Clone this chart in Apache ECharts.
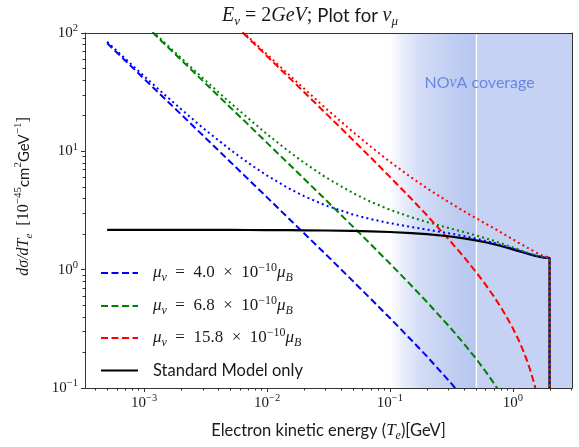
<!DOCTYPE html>
<html><head><meta charset="utf-8">
<script src="https://cdn.jsdelivr.net/npm/echarts@6/dist/echarts.min.js"></script>
<style>html,body{margin:0;padding:0;background:#fff}#c{width:579px;height:447px}</style>
</head><body><div id="c"></div>
<script>
// electron kinetic energy T_e [GeV]
const energy = [0.0005,0.0007,0.001,0.0015,0.002,0.003,0.005,0.007,0.01,0.015,0.02,0.03,0.05,0.07,0.1,0.15,0.2,0.3,0.4,0.5,0.6,0.7,0.8,0.9,1.0,1.1,1.2,1.3,1.4,1.5,1.6,1.7,1.8,1.9,1.95,1.99];
// magnetic-moment contribution (dashed)
const mmBlue = [82.0,58.6,41.0,27.3,20.5,13.65,8.18,5.84,4.08,2.71,2.03,1.35,0.80,0.565,0.390,0.253,0.185,0.116,0.082,0.0615,0.0478,0.0381,0.0308,0.0251,0.0205,0.0168,0.0137,0.0110,0.0088,0.0068,0.0051,0.0036,0.0023,0.0011,0.0005,0.0001];
const mmGreen = [236.9,169.2,118.4,78.9,59.2,39.4,23.6,16.9,11.79,7.84,5.87,3.89,2.31,1.634,1.126,0.731,0.533,0.336,0.237,0.178,0.138,0.110,0.0889,0.0724,0.0593,0.0485,0.0395,0.0319,0.0254,0.0198,0.0148,0.0105,0.0066,0.0031,0.0015,0.0003];
const mmRed = [1279.7,914.0,639.7,426.4,319.7,213.0,127.7,91.1,63.7,42.3,31.7,21.0,12.48,8.83,6.08,3.95,2.88,1.81,1.28,0.96,0.747,0.594,0.48,0.391,0.32,0.262,0.213,0.172,0.137,0.107,0.080,0.0565,0.0356,0.0168,0.0082,0.0016];
// Standard Model only (solid black)
const smOnly = [2.169,2.169,2.169,2.168,2.168,2.167,2.165,2.163,2.161,2.156,2.151,2.142,2.125,2.107,2.081,2.038,1.996,1.916,1.841,1.770,1.704,1.643,1.586,1.533,1.485,1.442,1.403,1.369,1.339,1.314,1.294,1.278,1.266,1.259,1.258,1.257];
// SM + magnetic moment (dotted)
const totBlue = [84.2,60.7,43.2,29.5,22.7,15.8,10.35,8.00,6.24,4.87,4.18,3.49,2.925,2.672,2.471,2.291,2.181,2.032,1.923,1.832,1.752,1.681,1.617,1.558,1.506,1.459,1.417,1.380,1.348,1.321,1.299,1.282,1.268,1.260,1.258,1.257];
const totGreen = [239.1,171.4,120.6,81.1,61.4,41.6,25.8,19.1,13.95,10.0,8.02,6.03,4.44,3.74,3.21,2.77,2.53,2.25,2.08,1.948,1.842,1.753,1.675,1.605,1.544,1.491,1.443,1.401,1.364,1.334,1.309,1.289,1.273,1.262,1.260,1.257];
const totRed = [1281.9,916.2,641.9,428.6,321.9,215.2,129.9,93.3,65.9,44.5,33.9,23.1,14.6,10.94,8.16,5.99,4.88,3.73,3.12,2.73,2.45,2.24,2.07,1.92,1.81,1.70,1.62,1.54,1.48,1.42,1.37,1.33,1.30,1.28,1.27,1.26];
// kinematic endpoint: curves drop off below the axis
const cutoffEnergy = 1.99;
const belowAxis = 0.001;
// axis limits and ticks
const xLimits = [3.30e-4, 3.03];
const yLimits = [0.1, 100];
const xMajorTicks = [0.001, 0.01, 0.1, 1];
const yMajorTicks = [0.1, 1, 10, 100];
const xMinorTicks = [4e-4,5e-4,6e-4,7e-4,8e-4,9e-4,2e-3,3e-3,4e-3,5e-3,6e-3,7e-3,8e-3,9e-3,0.02,0.03,0.04,0.05,0.06,0.07,0.08,0.09,0.2,0.3,0.4,0.5,0.6,0.7,0.8,0.9,2,3];
const yMinorTicks = [0.2,0.3,0.4,0.5,0.6,0.7,0.8,0.9,2,3,4,5,6,7,8,9,20,30,40,50,60,70,80,90];
// NOvA coverage band
const novaFadeStart = 0.1;
const novaEdge = 0.5;
const legendNames = ['mu 4.0', 'mu 6.8', 'mu 15.8', 'Standard Model only'];

const L = Math.log10;
const toXY = ys => energy.map((e, i) => [L(e), L(ys[i])]);
const withDrop = pts => pts.concat([[L(cutoffEnergy), L(belowAxis)]]);

const SERIF = 'Liberation Serif';
const SANS = 'Lato';
const TXT = '#1a1a1a';
const rich = {
  n: {fontFamily: SERIF, fontSize: 17, lineHeight: 22, color: TXT, fontWeight: 'normal'},
  i: {fontFamily: SERIF, fontStyle: 'italic', fontSize: 17, lineHeight: 22, color: TXT, fontWeight: 'normal'},
  sup: {fontFamily: SERIF, fontSize: 12, lineHeight: 13, verticalAlign: 'top', color: TXT, fontWeight: 'normal'},
  isub: {fontFamily: SERIF, fontStyle: 'italic', fontSize: 12, lineHeight: 12, verticalAlign: 'bottom', color: TXT, fontWeight: 'normal'},
  t: {fontFamily: SANS, fontSize: 16.5, lineHeight: 22, color: TXT, fontWeight: 'normal'}
};
const tickRich = {
  n: {fontFamily: SERIF, fontSize: 15, lineHeight: 20, color: TXT},
  sp: {fontFamily: SERIF, fontSize: 10.5, lineHeight: 12, verticalAlign: 'top', color: TXT}
};
const expFmt = v => { const e = Math.round(v); return '{n|10}{sp|' + (e < 0 ? '\u2212' + (-e) : e) + '}'; };

const S = '\u2002';
const legendRich = {
  'mu 4.0': '{i|μ}{isub|ν}{n|' + S + '=' + S + '4.0' + S + '×' + S + '10}{sup|−10}{i|μ}{isub|B}',
  'mu 6.8': '{i|μ}{isub|ν}{n|' + S + '=' + S + '6.8' + S + '×' + S + '10}{sup|−10}{i|μ}{isub|B}',
  'mu 15.8': '{i|μ}{isub|ν}{n|' + S + '=' + S + '15.8' + S + '×' + S + '10}{sup|−10}{i|μ}{isub|B}',
  'Standard Model only': '{t|Standard Model only}'
};
const legendRowTops = [262, 295, 327, 362];

const DASH = [7, 3.5];
const DOT = [2, 3.2];
function line(name, pts, color, type, width) {
  return {type: 'line', name, data: pts, symbol: 'none', showSymbol: false, clip: true, silent: true,
    lineStyle: {color, width, type, cap: 'butt'}, itemStyle: {color}};
}

const AX = '#333';
const xBase = {type: 'value', min: L(xLimits[0]), max: L(xLimits[1]), splitLine: {show: false}, z: 10};
const yBase = {type: 'value', min: L(yLimits[0]), max: L(yLimits[1]), splitLine: {show: false}, z: 10};
const axLine = {show: true, onZero: false, lineStyle: {color: AX, width: 1}};

const sm = line(legendNames[3], withDrop(toXY(smOnly)), '#000', 'solid', 2.2);
sm.markArea = {
  silent: true, z: 1,
  data: [
    [{xAxis: L(novaFadeStart), itemStyle: {color: {type: 'linear', x: 0, y: 0, x2: 1, y2: 0, colorStops: [
      {offset: 0, color: 'rgba(182,198,239,0)'},
      {offset: 0.12, color: 'rgba(182,198,239,0.25)'},
      {offset: 0.35, color: 'rgba(182,198,239,0.6)'},
      {offset: 0.7, color: 'rgba(182,198,239,0.85)'},
      {offset: 1, color: 'rgba(182,198,239,1)'}]}}}, {xAxis: L(novaEdge)}],
    [{xAxis: L(novaEdge), itemStyle: {color: '#c5d2f3'}}, {xAxis: L(xLimits[1])}]
  ]
};
sm.markLine = {silent: true, z: 1, symbol: 'none', label: {show: false},
  lineStyle: {color: '#ffffff', width: 1.2, type: 'solid'}, data: [{xAxis: L(novaEdge)}]};
sm.markPoint = {silent: true, z: 1, symbol: 'circle', symbolSize: 0,
  label: {show: true, position: 'inside', formatter: '{t|NO}{i|ν}{t|A coverage}', rich: {
    t: {fontFamily: SANS, fontSize: 16, color: '#6a86e2'},
    i: {fontFamily: SERIF, fontStyle: 'italic', fontSize: 16, color: '#6a86e2'}}},
  data: [{coord: [L(0.536), L(37.6)]}]};

const option = {
  animation: false,
  backgroundColor: '#fff',
  title: {
    text: '{i|E}{isub|ν}{n| = 2}{i|GeV}{n|; }{t|Plot for }{i|ν}{isub|μ}',
    left: 222, top: 4, padding: 0,
    textStyle: {fontWeight: 'normal', rich: {
      n: {fontFamily: SERIF, fontSize: 20, lineHeight: 24, color: TXT, fontWeight: 'normal'},
      i: {fontFamily: SERIF, fontStyle: 'italic', fontSize: 20, lineHeight: 24, color: TXT, fontWeight: 'normal'},
      isub: {fontFamily: SERIF, fontStyle: 'italic', fontSize: 13, lineHeight: 13, verticalAlign: 'bottom', color: TXT, fontWeight: 'normal'},
      t: {fontFamily: SANS, fontSize: 18.5, lineHeight: 24, color: TXT, fontWeight: 'normal'}}}
  },
  grid: {left: 85, right: 7, top: 33, bottom: 52, containLabel: false},
  legend: legendNames.map((nm, k) => ({
    data: [nm], orient: 'vertical', left: 100, top: legendRowTops[k], padding: 0,
    itemWidth: 37, itemHeight: 14, selectedMode: false,
    itemStyle: {color: 'rgba(0,0,0,0)', borderWidth: 0, opacity: 0},
    formatter: name => legendRich[name],
    textStyle: {rich, padding: [0, 0, 0, 10]}
  })),
  xAxis: [
    Object.assign({}, xBase, {position: 'bottom', axisLine: axLine,
      axisTick: {show: true, length: 4, customValues: xMajorTicks.map(L), lineStyle: {color: AX}},
      axisLabel: {show: true, margin: 5, customValues: xMajorTicks.map(L), formatter: expFmt, rich: tickRich},
      name: '{t|Electron kinetic energy (}{i|T}{isub|e}{t|)[GeV]}', nameLocation: 'middle', nameGap: 32,
      nameTextStyle: {rich}}),
    Object.assign({}, xBase, {position: 'bottom',
      axisLine: {show: false, onZero: false},
      axisTick: {show: true, length: 2.5, customValues: xMinorTicks.map(L), lineStyle: {color: AX}},
      axisLabel: {show: false}}),
    Object.assign({}, xBase, {position: 'top', axisLine: axLine,
      axisTick: {show: false}, axisLabel: {show: false}})
  ],
  yAxis: [
    Object.assign({}, yBase, {position: 'left', axisLine: axLine,
      axisTick: {show: true, length: 4, customValues: yMajorTicks.map(L), lineStyle: {color: AX}},
      axisLabel: {show: true, margin: 7, customValues: yMajorTicks.map(L), formatter: expFmt, rich: tickRich},
      name: '{i|dσ/dT}{isub|e}{n|  [10}{sup|−45}{t|cm}{sup|2}{t|GeV}{sup|−1}{n|]}', nameLocation: 'middle', nameRotate: 90, nameGap: 50,
      nameTextStyle: {rich: {
        n: {fontFamily: SERIF, fontSize: 16, lineHeight: 22, color: TXT},
        i: {fontFamily: SERIF, fontStyle: 'italic', fontSize: 16, lineHeight: 22, color: TXT},
        sup: {fontFamily: SERIF, fontSize: 11, lineHeight: 13, verticalAlign: 'top', color: TXT},
        isub: {fontFamily: SERIF, fontStyle: 'italic', fontSize: 11, lineHeight: 12, verticalAlign: 'bottom', color: TXT},
        t: {fontFamily: SANS, fontSize: 15, lineHeight: 22, color: TXT}}, padding: [0, 0, 0, 28]}}),
    Object.assign({}, yBase, {position: 'left',
      axisLine: {show: false, onZero: false},
      axisTick: {show: true, length: 2.5, customValues: yMinorTicks.map(L), lineStyle: {color: AX}},
      axisLabel: {show: false}}),
    Object.assign({}, yBase, {position: 'right', axisLine: axLine,
      axisTick: {show: false}, axisLabel: {show: false}})
  ],
  series: [
    line(legendNames[0], toXY(mmBlue), '#0000ff', DASH, 2),
    line(legendNames[1], toXY(mmGreen), '#008000', DASH, 2),
    line(legendNames[2], toXY(mmRed), '#ff0000', DASH, 2),
    sm,
    line('total blue', withDrop(toXY(totBlue)), '#0000ff', DOT, 2),
    line('total green', withDrop(toXY(totGreen)), '#008000', DOT, 2),
    line('total red', withDrop(toXY(totRed)), '#ff0000', DOT, 2)
  ]
};
echarts.init(document.getElementById('c'), null, {renderer: 'canvas'}).setOption(option);
</script></body></html>
